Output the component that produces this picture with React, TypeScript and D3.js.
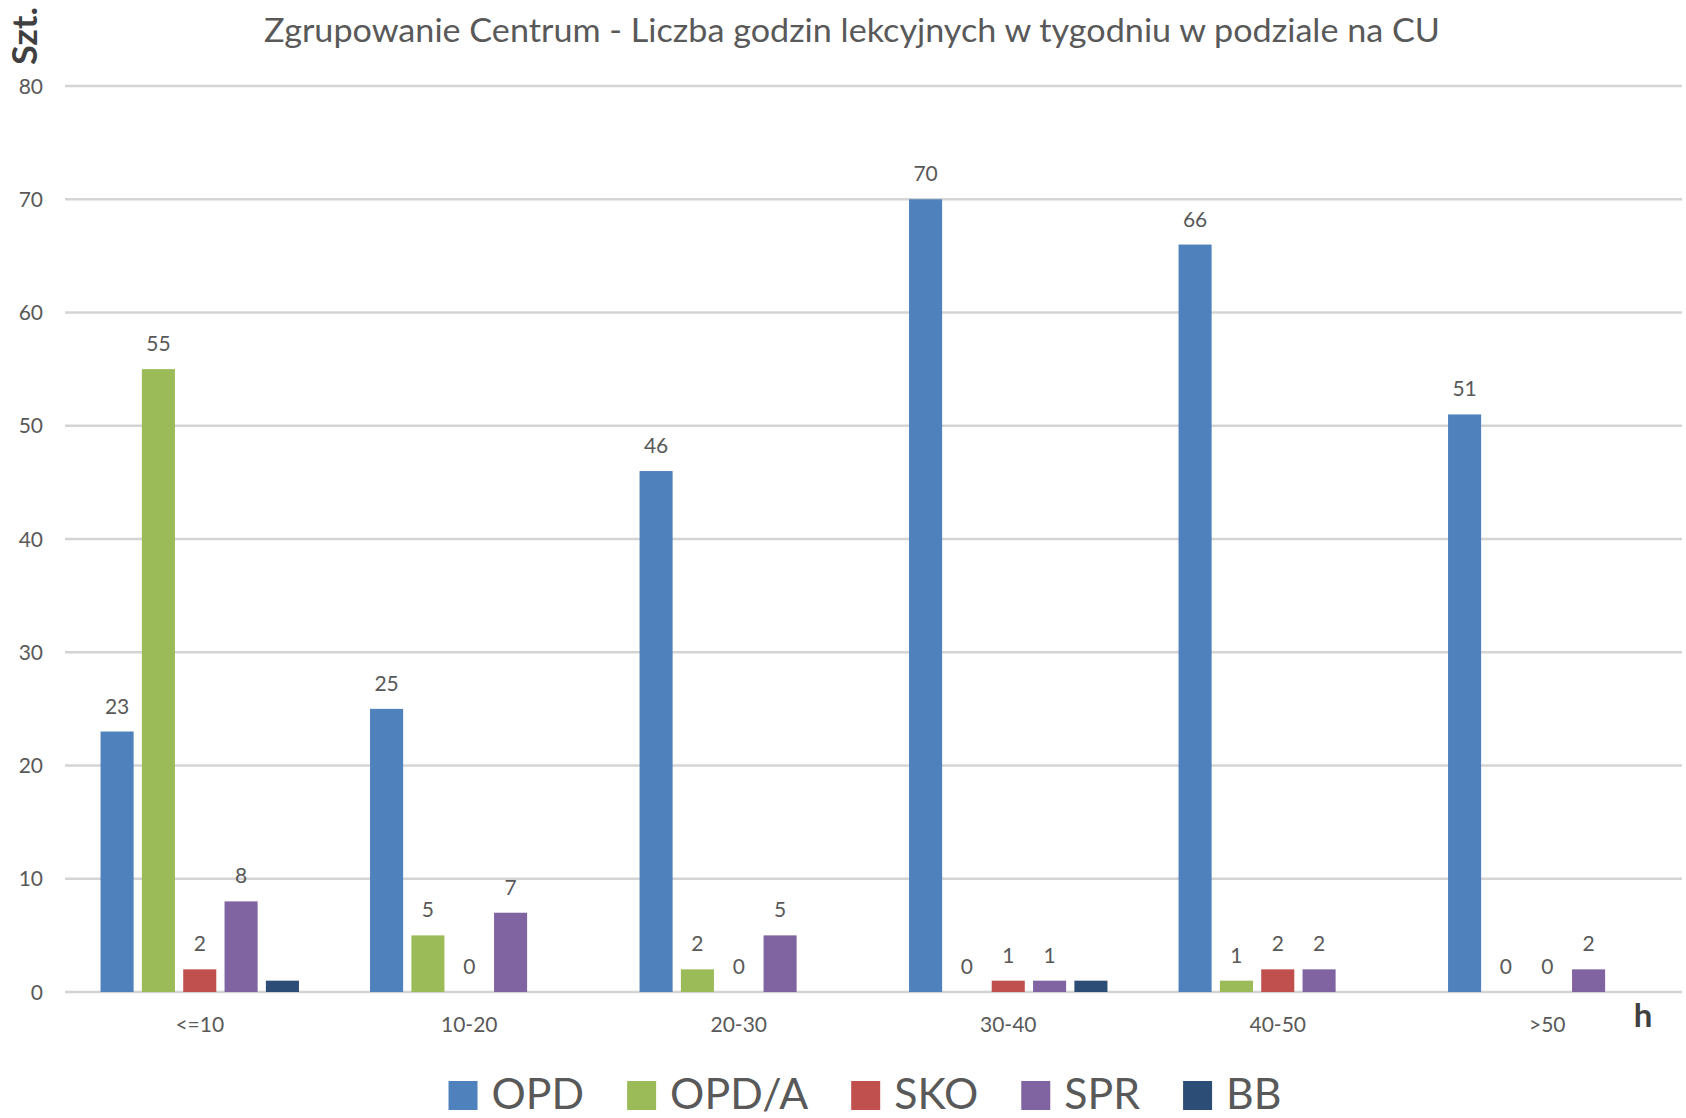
import React, { useEffect, useRef } from "react";
import * as d3 from "d3";

const categories = ["<=10", "10-20", "20-30", "30-40", "40-50", ">50"];
const seriesNames = ["OPD", "OPD/A", "SKO", "SPR", "BB"];
const seriesColors = ["#4F81BD", "#9BBB59", "#C0504D", "#8064A2", "#2C4D75"];
const opd = [23, 25, 46, 70, 66, 51];
const opdA = [55, 5, 2, 0, 1, 0];
const sko = [2, 0, 0, 1, 2, 0];
const spr = [8, 7, 5, 1, 2, 2];
const bb: (number | null)[] = [1, null, null, 1, null, null];
const showLabels = [true, true, true, true, false];
const yTicks = [0, 10, 20, 30, 40, 50, 60, 70, 80];
const title = "Zgrupowanie Centrum - Liczba godzin lekcyjnych w tygodniu w podziale na CU";

const W = 1686;
const H = 1118;
const FONT = "Lato, 'Open Sans', sans-serif";

export default function App() {
  const ref = useRef<SVGSVGElement | null>(null);

  useEffect(() => {
    const svg = d3.select(ref.current);
    svg.selectAll("*").remove();
    const values = [opd, opdA, sko, spr, bb];

    const left = 65, right = 1682, top = 86, bottom = 992;
    const y = d3.scaleLinear().domain([0, 80]).range([bottom, top]);
    const x0 = d3.scaleBand<string>().domain(categories).range([left, right]).padding(0);
    const x1 = d3.scaleBand<string>().domain(seriesNames).range([0, x0.bandwidth()])
      .paddingInner(0.2).paddingOuter(0.86);

    // gridlines
    svg.append("g").selectAll("line").data(yTicks).join("line")
      .attr("x1", left).attr("x2", right)
      .attr("y1", (d) => y(d)).attr("y2", (d) => y(d))
      .attr("stroke", "#D4D4D4").attr("stroke-width", 2.5);

    // y tick labels
    svg.append("g").selectAll("text").data(yTicks).join("text")
      .attr("x", 43).attr("y", (d) => y(d) + 7.5)
      .attr("text-anchor", "end")
      .attr("font-family", FONT).attr("font-size", 21).attr("fill", "#595959")
      .text((d) => String(d));

    // bars
    const barData: { c: string; s: string; v: number | null; i: number }[] = [];
    categories.forEach((c, ci) => seriesNames.forEach((s, si) => barData.push({ c, s, v: values[si][ci], i: si })));

    svg.append("g").selectAll("rect").data(barData.filter((d) => d.v !== null && (d.v as number) > 0)).join("rect")
      .attr("x", (d) => (x0(d.c) as number) + (x1(d.s) as number))
      .attr("width", x1.bandwidth())
      .attr("y", (d) => y(d.v as number))
      .attr("height", (d) => y(0) - y(d.v as number))
      .attr("fill", (d) => seriesColors[d.i]);

    // data labels
    svg.append("g").selectAll("text").data(barData.filter((d) => d.v !== null && showLabels[d.i])).join("text")
      .attr("x", (d) => (x0(d.c) as number) + (x1(d.s) as number) + x1.bandwidth() / 2)
      .attr("y", (d) => y(d.v as number) - 18)
      .attr("text-anchor", "middle")
      .attr("font-family", FONT).attr("font-size", 21).attr("fill", "#595959")
      .text((d) => String(d.v));

    // category labels
    svg.append("g").selectAll("text").data(categories).join("text")
      .attr("x", (d) => (x0(d) as number) + x0.bandwidth() / 2)
      .attr("y", 1032)
      .attr("text-anchor", "middle")
      .attr("font-family", FONT).attr("font-size", 21).attr("fill", "#595959")
      .text((d) => d);

    // title
    svg.append("text")
      .attr("x", 852).attr("y", 42)
      .attr("text-anchor", "middle")
      .attr("font-family", FONT).attr("font-size", 32).attr("fill", "#595959")
      .attr("textLength", 1176).attr("lengthAdjust", "spacingAndGlyphs")
      .text(title);

    // axis titles
    svg.append("text")
      .attr("transform", "translate(37,36) rotate(-90)")
      .attr("text-anchor", "middle")
      .attr("font-family", FONT).attr("font-size", 34).attr("font-weight", "bold").attr("fill", "#404040")
      .attr("textLength", 58).attr("lengthAdjust", "spacingAndGlyphs")
      .text("Szt.");
    svg.append("text")
      .attr("x", 1643).attr("y", 1027)
      .attr("text-anchor", "middle")
      .attr("font-family", FONT).attr("font-size", 33).attr("font-weight", "bold").attr("fill", "#404040")
      .text("h");

    // legend
    const lg = svg.append("g");
    const sq = 29, gapT = 14, gapItem = 43;
    const items = seriesNames.map((name, i) => {
      const g = lg.append("g");
      g.append("rect").attr("width", sq).attr("height", sq).attr("y", -sq).attr("fill", seriesColors[i]);
      const t = g.append("text").attr("x", sq + gapT).attr("y", -1)
        .attr("font-family", FONT).attr("font-size", 42).attr("fill", "#595959").text(name);
      const w = (t.node() as SVGTextElement).getComputedTextLength() * 1.02;
      t.attr("textLength", w).attr("lengthAdjust", "spacingAndGlyphs");
      return { g, w: sq + gapT + w };
    });
    const total = d3.sum(items, (d) => d.w) + gapItem * (items.length - 1);
    let cx = 865 - total / 2;
    items.forEach((it) => {
      it.g.attr("transform", `translate(${cx},1110)`);
      cx += it.w + gapItem;
    });
  }, []);

  return (
    <svg ref={ref} width={W} height={H} style={{ position: "absolute", left: 0, top: 0, background: "#fff" }} />
  );
}
